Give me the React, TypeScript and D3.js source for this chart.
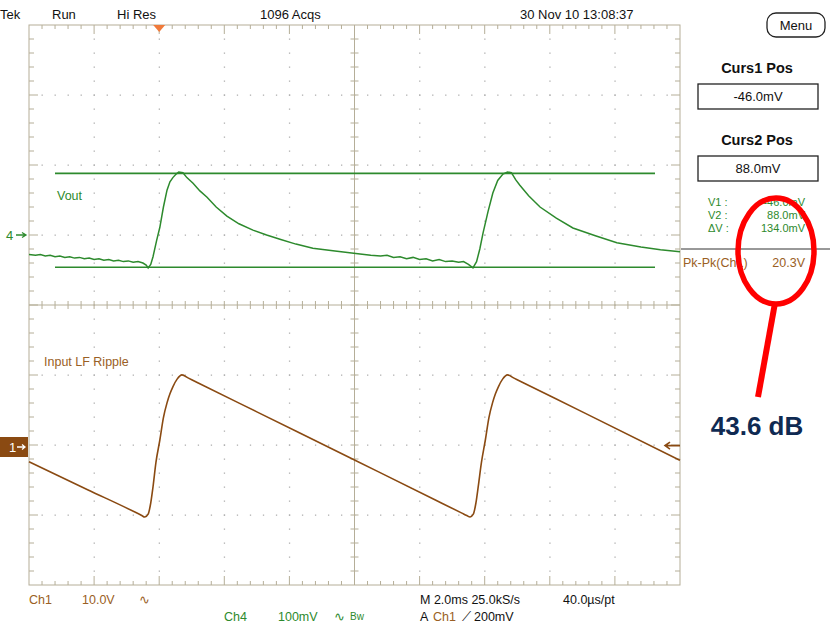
import React from "react";
import * as d3 from "d3";

// Ch4 (Vout) trace: time in ms, value in mV
const voutTrace: [number, number][] = [
  [0, -28], [0.2, -29], [0.35, -28], [0.5, -30], [0.65, -29], [0.8, -31], [0.95, -30], [1.1, -32],
  [1.25, -31], [1.4, -33], [1.55, -32], [1.7, -34], [1.85, -33], [2.0, -35], [2.15, -34], [2.3, -36],
  [2.45, -35], [2.6, -37], [2.75, -36], [2.9, -38], [3.05, -37], [3.2, -39], [3.35, -38], [3.5, -40],
  [3.6, -43], [3.66, -47], [3.74, -42],
  [3.81, -31], [3.92, -8], [4.02, 11], [4.13, 40], [4.24, 64], [4.33, 76], [4.42, 82], [4.52, 87],
  [4.6, 90], [4.73, 89], [4.85, 82], [5.04, 74], [5.25, 63], [5.47, 54], [5.75, 40], [6.08, 27],
  [6.45, 16], [6.88, 7], [7.3, 0], [7.71, -6], [8.2, -13], [8.72, -19], [9.4, -23], [10.17, -27],
  [10.5, -29], [10.8, -30], [11.0, -29], [11.2, -32], [11.4, -31], [11.6, -34], [11.8, -32], [12.0, -35],
  [12.2, -34], [12.4, -37], [12.6, -35], [12.8, -38], [13.0, -37], [13.2, -39], [13.35, -38], [13.5, -42],
  [13.64, -47], [13.75, -38], [13.85, -20], [13.95, 3], [14.1, 33], [14.25, 60], [14.4, 78], [14.56, 87],
  [14.7, 90], [14.82, 89], [14.95, 79], [15.08, 71], [15.35, 56], [15.7, 40], [16.2, 24], [16.71, 10],
  [17.4, -1], [18.06, -11], [18.8, -17], [19.4, -21], [20, -24],
];

// Ch1 (input LF ripple) trace: time in ms, value in V
const rippleTrace: [number, number][] = [
  [0, -2.1], [1.8, -6.1], [3.3, -9.4], [3.45, -9.75], [3.56, -10.0], [3.66, -9.6], [3.74, -8.0], [3.81, -5.7],
  [3.9, -2.2], [4.02, 1.0], [4.13, 4.2], [4.24, 6.3], [4.33, 7.6], [4.42, 8.6], [4.55, 9.7],
  [4.7, 10.3], [4.9, 9.84], [5.2, 9.15], [7.0, 5.02], [10.0, -1.86], [12.5, -7.6], [13.3, -9.45],
  [13.45, -9.8], [13.55, -10.0], [13.65, -9.6], [13.73, -8.0],
  [13.8, -5.7], [13.9, -2.2], [14.02, 1.0], [14.13, 4.2], [14.24, 6.3], [14.33, 7.6], [14.42, 8.6],
  [14.55, 9.7], [14.7, 10.3], [14.9, 9.84], [15.2, 9.15], [17.0, 5.02], [20, -1.9],
];

// Cursor readouts (mV)
const cursorLabels = ["Curs1 Pos", "Curs2 Pos"];
const cursorValues = [-46.0, 88.0];
const ripplePkPk = 20.3;
const rejectionDb = 43.6;

const headerTexts: [string, number][] = [
  ["Tek", 0], ["Run", 52], ["Hi Res", 117], ["1096 Acqs", 260], ["30 Nov 10 13:08:37", 520],
];

const W = 830;
const H = 625;
const gx0 = 29;
const gx1 = 680;
const gy0 = 25;
const gy1 = 585;
const nDivX = 10;
const nDivY = 8;

const GREEN = "#2d8a2d";
const BROWN = "#8a4a12";
const BROWN_TXT = "#9a6024";
const GRID = "#b5ae98";
const DOT = "#b0b0b0";
const FONT = "'Liberation Sans', Arial, sans-serif";

export default function App() {
  const x = d3.scaleLinear().domain([0, 20]).range([gx0, gx1]);
  // Ch4: 100 mV/div, ground marker at y=235
  const yV = d3.scaleLinear().domain([0, 100]).range([235, 165]);
  // Ch1: 10 V/div, ground marker at y=447
  const yR = d3.scaleLinear().domain([0, 10]).range([447, 377]);
  const gridY = d3.scaleLinear().domain([0, nDivY]).range([gy0, gy1]);
  const gridX = d3.scaleLinear().domain([0, nDivX]).range([gx0, gx1]);

  const voutLine = d3.line<[number, number]>().x((d) => x(d[0])).y((d) => yV(d[1]));
  const rippleLine = d3
    .line<[number, number]>()
    .x((d) => x(d[0]))
    .y((d) => yR(d[1]))
    .curve(d3.curveMonotoneX);

  const cx = gridX(nDivX / 2);
  const cy = gridY(nDivY / 2);

  // Graticule dots along every major division line, at minor spacing
  const dots: JSX.Element[] = [];
  for (let i = 1; i < nDivY; i++) {
    if (i === nDivY / 2) continue;
    for (let m = 1; m < nDivX * 5; m++) {
      dots.push(<rect key={`h${i}-${m}`} x={gridX(m / 5) - 0.5} y={gridY(i) - 0.5} width={1.3} height={1.3} fill={DOT} />);
    }
  }
  for (let i = 1; i < nDivX; i++) {
    if (i === nDivX / 2) continue;
    for (let m = 1; m < nDivY * 5; m++) {
      dots.push(<rect key={`v${i}-${m}`} x={gridX(i) - 0.5} y={gridY(m / 5) - 0.5} width={1.3} height={1.3} fill={DOT} />);
    }
  }

  // Tick marks on borders and center axes
  const ticks: JSX.Element[] = [];
  for (let m = 1; m < nDivX * 5; m++) {
    const px = gridX(m / 5);
    const major = m % 5 === 0;
    const len = major ? 9 : 4;
    ticks.push(<line key={`tt${m}`} x1={px} x2={px} y1={gy0} y2={gy0 + len} />);
    ticks.push(<line key={`tb${m}`} x1={px} x2={px} y1={gy1} y2={gy1 - len} />);
    ticks.push(<line key={`tc${m}`} x1={px} x2={px} y1={cy - 4} y2={cy + 4} />);
  }
  for (let m = 1; m < nDivY * 5; m++) {
    const py = gridY(m / 5);
    const major = m % 5 === 0;
    const len = major ? 9 : 5;
    ticks.push(<line key={`tl${m}`} x1={gx0} x2={gx0 + len} y1={py} y2={py} />);
    ticks.push(<line key={`tr${m}`} x1={gx1} x2={gx1 - len} y1={py} y2={py} />);
    ticks.push(<line key={`tcv${m}`} x1={cx - 4} x2={cx + 4} y1={py} y2={py} />);
  }

  const fmt = (v: number) => `${v.toFixed(1)}mV`;
  const dV = cursorValues[1] - cursorValues[0];
  const txt = { fontFamily: FONT, fontSize: 12.5 } as const;

  return (
    <svg width={W} height={H} style={{ position: "absolute", left: 0, top: 0, background: "#fff" }}>
      <rect width={W} height={H} fill="#fff" />
      <g>{dots}</g>
      <g stroke={GRID} strokeWidth={1}>
        {ticks}
        <line x1={gx0} x2={gx1} y1={cy} y2={cy} />
        <line x1={cx} x2={cx} y1={gy0} y2={gy1} />
        <rect x={gx0} y={gy0} width={gx1 - gx0} height={gy1 - gy0} fill="none" />
      </g>

      {/* trigger position */}
      <path d={`M${x(4.0) - 6},${gy0} L${x(4.0) + 6},${gy0} L${x(4.0)},${gy0 + 7} Z`} fill="#f07a3a" />

      {/* header */}
      {headerTexts.map(([t, px]) => (
        <text key={t} x={px} y={19} {...txt} fontSize={13} fill="#111">{t}</text>
      ))}
      <rect x={767} y={13} width={58} height={24} rx={9} fill="#fff" stroke="#222" strokeWidth={1.3} />
      <text x={796} y={30} textAnchor="middle" {...txt} fontSize={13} fill="#111">Menu</text>

      {/* cursors */}
      {cursorValues.map((v, i) => (
        <line key={i} x1={55} x2={655} y1={yV(v)} y2={yV(v)} stroke={GREEN} strokeWidth={1.6} />
      ))}

      {/* traces */}
      <path d={voutLine(voutTrace) ?? ""} fill="none" stroke={GREEN} strokeWidth={1.5} />
      <path d={rippleLine(rippleTrace) ?? ""} fill="none" stroke={BROWN} strokeWidth={1.6} />

      {/* labels on screen */}
      <text x={57} y={200} {...txt} fill={GREEN}>Vout</text>
      <text x={44} y={366} {...txt} fill={BROWN_TXT}>Input LF Ripple</text>

      {/* channel markers */}
      <text x={6} y={yV(0) + 5} {...txt} fontSize={13} fill={GREEN}>4</text>
      <path d={`M16,${yV(0)} L25,${yV(0)} M22,${yV(0) - 2.5} L26,${yV(0)} L22,${yV(0) + 2.5}`} stroke={GREEN} strokeWidth={1.3} fill="none" />
      <rect x={0} y={yR(0) - 10} width={28} height={20} fill={BROWN} />
      <text x={9} y={yR(0) + 5} {...txt} fontSize={13} fill="#fff">1</text>
      <path d={`M17,${yR(0)} L25,${yR(0)} M22,${yR(0) - 2.5} L25,${yR(0)} L22,${yR(0) + 2.5}`} stroke="#fff" strokeWidth={1.3} fill="none" />
      {/* trigger level */}
      <path d={`M666,${yR(0.2)} L680,${yR(0.2)} M670,${yR(0.2) - 3.5} L665,${yR(0.2)} L670,${yR(0.2) + 3.5}`} stroke={BROWN} strokeWidth={1.6} fill="none" />

      {/* cursor panel */}
      {cursorLabels.map((lab, i) => (
        <g key={lab} transform={`translate(0, ${i * 72})`}>
          <text x={757} y={73} textAnchor="middle" fontFamily={FONT} fontSize={14.5} fontWeight="bold" fill="#111">{lab}</text>
          <rect x={698} y={84} width={120} height={25} fill="#fff" stroke="#222" strokeWidth={1.3} />
          <text x={758} y={101} textAnchor="middle" {...txt} fontSize={13} fill="#111">{fmt(cursorValues[i])}</text>
        </g>
      ))}
      <g {...txt} fontSize={11} fill={GREEN}>
        <text x={708} y={206}>V1 :</text>
        <text x={805} y={206} textAnchor="end">{fmt(cursorValues[0])}</text>
        <text x={708} y={219}>V2 :</text>
        <text x={805} y={219} textAnchor="end">{fmt(cursorValues[1])}</text>
        <text x={708} y={232}>ΔV :</text>
        <text x={805} y={232} textAnchor="end">{fmt(dV)}</text>
      </g>
      <line x1={681} x2={830} y1={249} y2={249} stroke="#333" strokeWidth={1} />
      <text x={683} y={267} {...txt} fontSize={12.5} fill={BROWN_TXT}>Pk-Pk(Ch1)</text>
      <text x={805} y={267} textAnchor="end" {...txt} fontSize={12.5} fill={BROWN_TXT}>{ripplePkPk.toFixed(1)}V</text>

      {/* annotation */}
      <ellipse cx={776} cy={251} rx={38} ry={53} fill="none" stroke="#ff0000" strokeWidth={5.5} />
      <line x1={775} y1={303} x2={758} y2={397} stroke="#ff0000" strokeWidth={6} />
      <text x={757} y={435} textAnchor="middle" fontFamily={FONT} fontSize={26} fontWeight="bold" fill="#0f2a52">{`${rejectionDb} dB`}</text>

      {/* footer */}
      <g {...txt} fontSize={12.5}>
        <text x={29} y={604} fill={BROWN_TXT}>Ch1</text>
        <text x={82} y={604} fill={BROWN_TXT}>10.0V</text>
        <text x={139} y={604} fill={BROWN_TXT}>∿</text>
        <text x={224} y={621} fill={GREEN}>Ch4</text>
        <text x={278} y={621} fill={GREEN}>100mV</text>
        <text x={334} y={621} fill={GREEN}>∿</text>
        <text x={350} y={620} fontSize={10} fill={GREEN}>Bw</text>
        <text x={420} y={604} fill="#111">M 2.0ms 25.0kS/s</text>
        <text x={563} y={604} fill="#111">40.0µs/pt</text>
        <text x={420} y={621} fill="#111">A</text>
        <text x={433} y={621} fill={BROWN_TXT}>Ch1</text>
        <text x={462} y={621} fill="#111">⟋</text>
        <text x={474} y={621} fill="#111">200mV</text>
      </g>
    </svg>
  );
}
